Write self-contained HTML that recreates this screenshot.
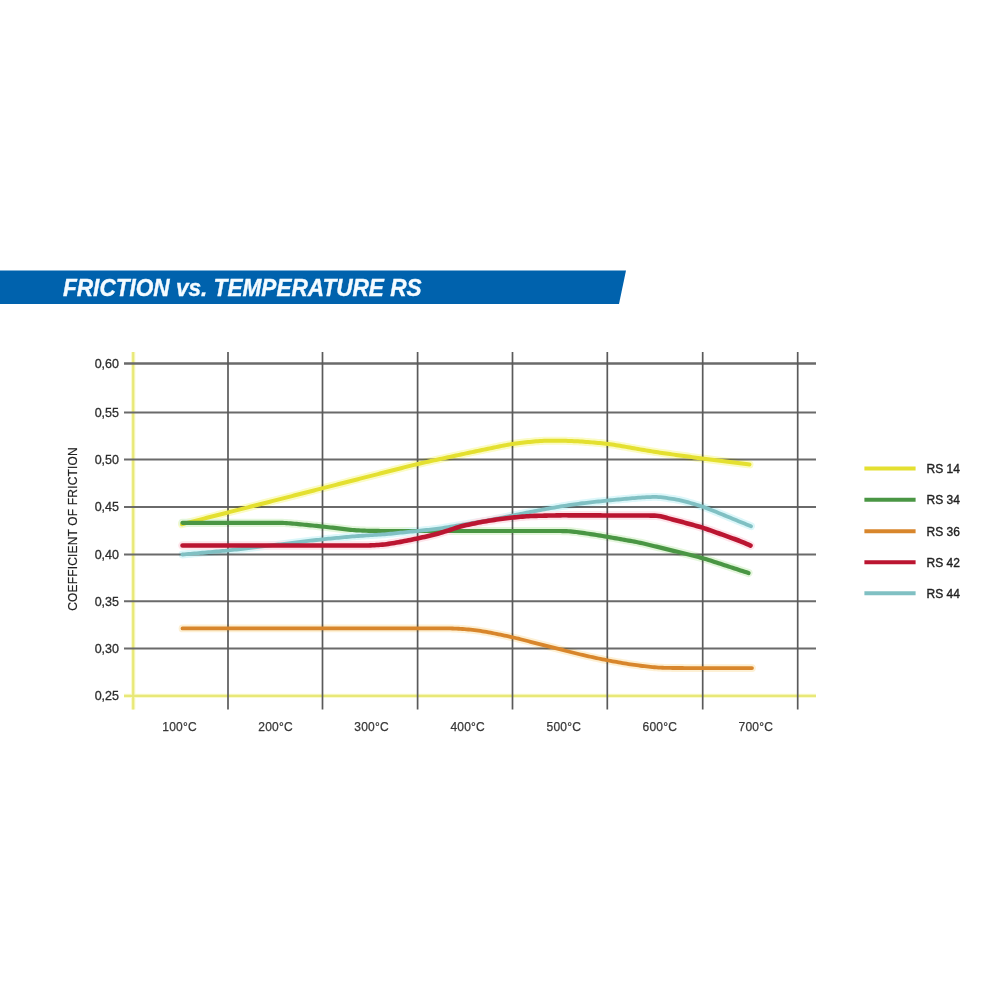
<!DOCTYPE html>
<html><head><meta charset="utf-8">
<style>
html,body{margin:0;padding:0;background:#fff;width:1000px;height:1000px;overflow:hidden}
svg{display:block;filter:blur(0.4px)}
text{font-family:"Liberation Sans",sans-serif}
</style></head>
<body>
<svg width="1000" height="1000" viewBox="0 0 1000 1000">
<rect width="1000" height="1000" fill="#fff"/>
<polygon points="0,270.5 626,270.5 619,304 0,304" fill="#0062ad"/>
<text transform="translate(63,295.6) scale(1,1.04)" x="0" y="0" font-size="22.6" font-weight="bold" font-style="italic" fill="#f4fbff" stroke="#f4fbff" stroke-width="0.35">FRICTION vs. TEMPERATURE RS</text>
<g stroke="#fafacc" stroke-width="4.4"><line x1="133.2" y1="352" x2="133.2" y2="709.5"/><line x1="124" y1="695.9" x2="816" y2="695.9"/></g>
<g stroke="#e8e878" stroke-width="2.2"><line x1="133.2" y1="352" x2="133.2" y2="709.5"/><line x1="124" y1="695.9" x2="816" y2="695.9"/></g>
<g stroke="#6a6a6a" stroke-width="2.0">
<line x1="124" y1="363.5" x2="816" y2="363.5" stroke-width="2.6"/>
<line x1="124" y1="412.5" x2="816" y2="412.5"/>
<line x1="124" y1="459.6" x2="816" y2="459.6"/>
<line x1="124" y1="507.1" x2="816" y2="507.1"/>
<line x1="124" y1="554.4" x2="816" y2="554.4"/>
<line x1="124" y1="601.2" x2="816" y2="601.2"/>
<line x1="124" y1="648.4" x2="816" y2="648.4"/>
</g>
<g stroke="#5a5a5a" stroke-width="1.7">
<line x1="228" y1="352" x2="228" y2="709.5"/>
<line x1="322.5" y1="352" x2="322.5" y2="709.5"/>
<line x1="417.6" y1="352" x2="417.6" y2="709.5"/>
<line x1="512.5" y1="352" x2="512.5" y2="709.5"/>
<line x1="607.3" y1="352" x2="607.3" y2="709.5"/>
<line x1="702.7" y1="352" x2="702.7" y2="709.5"/>
<line x1="797.7" y1="352" x2="797.7" y2="709.5"/>
</g>
<g font-size="12.5" fill="#2e2e2e" stroke="#2e2e2e" stroke-width="0.3" text-anchor="end">
<text x="119" y="367.8">0,60</text>
<text x="119" y="416.8">0,55</text>
<text x="119" y="463.9">0,50</text>
<text x="119" y="511.4">0,45</text>
<text x="119" y="558.7">0,40</text>
<text x="119" y="605.5">0,35</text>
<text x="119" y="652.7">0,30</text>
<text x="119" y="700.2">0,25</text>
</g>
<text transform="translate(77,529) rotate(-90)" font-size="12" letter-spacing="0.17" fill="#222" stroke="#222" stroke-width="0.2" text-anchor="middle">COEFFICIENT OF FRICTION</text>
<g font-size="12" fill="#383838" stroke="#383838" stroke-width="0.25" letter-spacing="0.2" text-anchor="middle">
<text x="179.6" y="731">100°C</text>
<text x="275.6" y="731">200°C</text>
<text x="371.6" y="731">300°C</text>
<text x="467.7" y="731">400°C</text>
<text x="563.8" y="731">500°C</text>
<text x="659.8" y="731">600°C</text>
<text x="755.8" y="731">700°C</text>
</g>
<g fill="none" stroke-linecap="round" stroke-linejoin="round" style="mix-blend-mode:multiply">
<path stroke="#fbfbc4" stroke-width="8.0" d="M182.0,524.20 L184.0,523.69 L186.0,523.18 L188.0,522.67 L190.0,522.15 L192.0,521.64 L194.0,521.13 L196.0,520.62 L198.0,520.11 L200.0,519.60 L202.0,519.09 L204.0,518.57 L206.0,518.06 L208.0,517.55 L210.0,517.04 L212.0,516.53 L214.0,516.02 L216.0,515.51 L218.0,514.99 L220.0,514.48 L222.0,513.97 L224.0,513.46 L226.0,512.95 L228.0,512.44 L230.0,511.92 L232.0,511.41 L234.0,510.90 L236.0,510.39 L238.0,509.88 L240.0,509.37 L242.0,508.86 L244.0,508.34 L246.0,507.83 L248.0,507.32 L250.0,506.81 L252.0,506.30 L254.0,505.79 L256.0,505.28 L258.0,504.76 L260.0,504.25 L262.0,503.74 L264.0,503.23 L266.0,502.72 L268.0,502.21 L270.0,501.70 L272.0,501.18 L274.0,500.67 L276.0,500.16 L278.0,499.65 L280.0,499.14 L282.0,498.63 L284.0,498.12 L286.0,497.60 L288.0,497.09 L290.0,496.58 L292.0,496.07 L294.0,495.56 L296.0,495.05 L298.0,494.53 L300.0,494.02 L302.0,493.51 L304.0,493.00 L306.0,492.49 L308.0,491.98 L310.0,491.47 L312.0,490.95 L314.0,490.44 L316.0,489.93 L318.0,489.42 L320.0,488.91 L322.0,488.40 L324.0,487.89 L326.0,487.37 L328.0,486.86 L330.0,486.35 L332.0,485.84 L334.0,485.33 L336.0,484.82 L338.0,484.31 L340.0,483.79 L342.0,483.28 L344.0,482.77 L346.0,482.26 L348.0,481.75 L350.0,481.24 L352.0,480.73 L354.0,480.21 L356.0,479.70 L358.0,479.19 L360.0,478.68 L362.0,478.17 L364.0,477.66 L366.0,477.14 L368.0,476.63 L370.0,476.12 L372.0,475.61 L374.0,475.10 L376.0,474.59 L378.0,474.08 L380.0,473.56 L382.0,473.05 L384.0,472.54 L386.0,472.03 L388.0,471.52 L390.0,471.01 L392.0,470.50 L394.0,469.98 L396.0,469.47 L398.0,468.96 L400.0,468.45 L402.0,467.94 L404.0,467.43 L406.0,466.93 L408.0,466.42 L410.0,465.92 L412.0,465.42 L414.0,464.93 L416.0,464.45 L418.0,463.98 L420.0,463.51 L422.0,463.05 L424.0,462.59 L426.0,462.14 L428.0,461.70 L430.0,461.25 L432.0,460.81 L434.0,460.37 L436.0,459.94 L438.0,459.50 L440.0,459.06 L442.0,458.63 L444.0,458.19 L446.0,457.75 L448.0,457.31 L450.0,456.88 L452.0,456.44 L454.0,456.01 L456.0,455.57 L458.0,455.14 L460.0,454.70 L462.0,454.27 L464.0,453.84 L466.0,453.41 L468.0,452.99 L470.0,452.56 L472.0,452.14 L474.0,451.71 L476.0,451.29 L478.0,450.87 L480.0,450.45 L482.0,450.03 L484.0,449.61 L486.0,449.19 L488.0,448.77 L490.0,448.35 L492.0,447.93 L494.0,447.51 L496.0,447.09 L498.0,446.68 L500.0,446.27 L502.0,445.86 L504.0,445.47 L506.0,445.09 L508.0,444.72 L510.0,444.37 L512.0,444.05 L514.0,443.74 L516.0,443.46 L518.0,443.20 L520.0,442.95 L522.0,442.72 L524.0,442.50 L526.0,442.29 L528.0,442.09 L530.0,441.89 L532.0,441.70 L534.0,441.52 L536.0,441.35 L538.0,441.19 L540.0,441.04 L542.0,440.92 L544.0,440.82 L546.0,440.74 L548.0,440.68 L550.0,440.65 L552.0,440.64 L554.0,440.64 L556.0,440.66 L558.0,440.68 L560.0,440.71 L562.0,440.75 L564.0,440.80 L566.0,440.85 L568.0,440.91 L570.0,440.98 L572.0,441.05 L574.0,441.14 L576.0,441.24 L578.0,441.35 L580.0,441.48 L582.0,441.61 L584.0,441.75 L586.0,441.90 L588.0,442.05 L590.0,442.21 L592.0,442.37 L594.0,442.54 L596.0,442.71 L598.0,442.89 L600.0,443.08 L602.0,443.28 L604.0,443.50 L606.0,443.73 L608.0,443.98 L610.0,444.25 L612.0,444.54 L614.0,444.85 L616.0,445.17 L618.0,445.50 L620.0,445.84 L622.0,446.19 L624.0,446.53 L626.0,446.88 L628.0,447.24 L630.0,447.59 L632.0,447.94 L634.0,448.29 L636.0,448.65 L638.0,449.00 L640.0,449.35 L642.0,449.70 L644.0,450.05 L646.0,450.39 L648.0,450.73 L650.0,451.07 L652.0,451.40 L654.0,451.72 L656.0,452.04 L658.0,452.34 L660.0,452.65 L662.0,452.94 L664.0,453.23 L666.0,453.51 L668.0,453.80 L670.0,454.08 L672.0,454.36 L674.0,454.63 L676.0,454.91 L678.0,455.19 L680.0,455.47 L682.0,455.74 L684.0,456.02 L686.0,456.30 L688.0,456.57 L690.0,456.85 L692.0,457.13 L694.0,457.40 L696.0,457.67 L698.0,457.94 L700.0,458.21 L702.0,458.47 L704.0,458.74 L706.0,458.99 L708.0,459.25 L710.0,459.50 L712.0,459.76 L714.0,460.01 L716.0,460.26 L718.0,460.50 L720.0,460.75 L722.0,461.00 L724.0,461.25 L726.0,461.49 L728.0,461.74 L730.0,461.99 L732.0,462.24 L734.0,462.48 L736.0,462.73 L738.0,462.98 L740.0,463.23 L742.0,463.47 L744.0,463.72 L746.0,463.97 L748.0,464.21 L749.5,464.40"/>
<path stroke="#e4f6dc" stroke-width="8.2" d="M182.5,522.80 L184.5,522.80 L186.5,522.80 L188.5,522.80 L190.5,522.80 L192.5,522.80 L194.5,522.80 L196.5,522.80 L198.5,522.80 L200.5,522.80 L202.5,522.80 L204.5,522.80 L206.5,522.80 L208.5,522.80 L210.5,522.80 L212.5,522.80 L214.5,522.80 L216.5,522.80 L218.5,522.80 L220.5,522.80 L222.5,522.80 L224.5,522.80 L226.5,522.80 L228.5,522.80 L230.5,522.80 L232.5,522.80 L234.5,522.80 L236.5,522.80 L238.5,522.80 L240.5,522.80 L242.5,522.80 L244.5,522.80 L246.5,522.80 L248.5,522.80 L250.5,522.80 L252.5,522.80 L254.5,522.80 L256.5,522.80 L258.5,522.80 L260.5,522.80 L262.5,522.80 L264.5,522.80 L266.5,522.80 L268.5,522.80 L270.5,522.80 L272.5,522.80 L274.5,522.81 L276.5,522.82 L278.5,522.84 L280.5,522.88 L282.5,522.93 L284.5,523.01 L286.5,523.12 L288.5,523.25 L290.5,523.40 L292.5,523.57 L294.5,523.75 L296.5,523.94 L298.5,524.13 L300.5,524.33 L302.5,524.53 L304.5,524.72 L306.5,524.92 L308.5,525.12 L310.5,525.32 L312.5,525.52 L314.5,525.72 L316.5,525.92 L318.5,526.12 L320.5,526.33 L322.5,526.55 L324.5,526.77 L326.5,527.00 L328.5,527.23 L330.5,527.47 L332.5,527.70 L334.5,527.94 L336.5,528.18 L338.5,528.42 L340.5,528.66 L342.5,528.90 L344.5,529.13 L346.5,529.36 L348.5,529.58 L350.5,529.79 L352.5,529.98 L354.5,530.15 L356.5,530.29 L358.5,530.41 L360.5,530.51 L362.5,530.60 L364.5,530.67 L366.5,530.73 L368.5,530.79 L370.5,530.84 L372.5,530.89 L374.5,530.92 L376.5,530.95 L378.5,530.97 L380.5,530.98 L382.5,530.99 L384.5,531.00 L386.5,531.00 L388.5,531.00 L390.5,531.00 L392.5,531.00 L394.5,531.00 L396.5,531.00 L398.5,531.00 L400.5,531.00 L402.5,531.00 L404.5,531.00 L406.5,531.00 L408.5,531.00 L410.5,531.00 L412.5,531.00 L414.5,531.00 L416.5,531.00 L418.5,531.00 L420.5,531.00 L422.5,531.00 L424.5,531.00 L426.5,531.00 L428.5,531.00 L430.5,531.00 L432.5,531.00 L434.5,531.00 L436.5,531.00 L438.5,531.00 L440.5,531.00 L442.5,531.00 L444.5,531.00 L446.5,531.00 L448.5,531.00 L450.5,531.00 L452.5,531.00 L454.5,531.00 L456.5,531.00 L458.5,531.00 L460.5,531.00 L462.5,531.00 L464.5,531.00 L466.5,531.00 L468.5,531.00 L470.5,531.00 L472.5,531.00 L474.5,531.00 L476.5,531.00 L478.5,531.00 L480.5,531.00 L482.5,531.00 L484.5,531.00 L486.5,531.00 L488.5,531.00 L490.5,531.00 L492.5,531.00 L494.5,531.00 L496.5,531.00 L498.5,531.00 L500.5,531.00 L502.5,531.00 L504.5,531.00 L506.5,531.00 L508.5,531.00 L510.5,531.00 L512.5,531.00 L514.5,531.00 L516.5,531.00 L518.5,531.00 L520.5,531.00 L522.5,531.00 L524.5,531.00 L526.5,531.00 L528.5,531.00 L530.5,531.00 L532.5,531.00 L534.5,531.00 L536.5,531.00 L538.5,531.00 L540.5,531.00 L542.5,531.00 L544.5,531.00 L546.5,531.00 L548.5,531.00 L550.5,531.00 L552.5,531.00 L554.5,531.00 L556.5,531.00 L558.5,531.01 L560.5,531.02 L562.5,531.04 L564.5,531.09 L566.5,531.15 L568.5,531.25 L570.5,531.39 L572.5,531.57 L574.5,531.79 L576.5,532.04 L578.5,532.30 L580.5,532.59 L582.5,532.88 L584.5,533.18 L586.5,533.48 L588.5,533.78 L590.5,534.08 L592.5,534.38 L594.5,534.69 L596.5,535.00 L598.5,535.32 L600.5,535.65 L602.5,535.98 L604.5,536.32 L606.5,536.67 L608.5,537.01 L610.5,537.37 L612.5,537.72 L614.5,538.07 L616.5,538.43 L618.5,538.78 L620.5,539.14 L622.5,539.49 L624.5,539.85 L626.5,540.20 L628.5,540.56 L630.5,540.92 L632.5,541.29 L634.5,541.66 L636.5,542.05 L638.5,542.45 L640.5,542.87 L642.5,543.31 L644.5,543.76 L646.5,544.23 L648.5,544.70 L650.5,545.19 L652.5,545.68 L654.5,546.17 L656.5,546.66 L658.5,547.15 L660.5,547.64 L662.5,548.14 L664.5,548.63 L666.5,549.12 L668.5,549.61 L670.5,550.10 L672.5,550.60 L674.5,551.09 L676.5,551.58 L678.5,552.07 L680.5,552.56 L682.5,553.06 L684.5,553.55 L686.5,554.04 L688.5,554.53 L690.5,555.03 L692.5,555.52 L694.5,556.03 L696.5,556.54 L698.5,557.06 L700.5,557.60 L702.5,558.16 L704.5,558.75 L706.5,559.35 L708.5,559.97 L710.5,560.60 L712.5,561.24 L714.5,561.89 L716.5,562.54 L718.5,563.20 L720.5,563.85 L722.5,564.50 L724.5,565.16 L726.5,565.81 L728.5,566.46 L730.5,567.12 L732.5,567.77 L734.5,568.42 L736.5,569.08 L738.5,569.73 L740.5,570.39 L742.5,571.04 L744.5,571.69 L746.5,572.35 L748.5,573.00"/>
<path stroke="#dcf7fa" stroke-width="7.8" d="M182.5,554.50 L184.5,554.32 L186.5,554.15 L188.5,553.97 L190.5,553.80 L192.5,553.62 L194.5,553.45 L196.5,553.27 L198.5,553.09 L200.5,552.92 L202.5,552.74 L204.5,552.57 L206.5,552.39 L208.5,552.21 L210.5,552.04 L212.5,551.86 L214.5,551.69 L216.5,551.51 L218.5,551.33 L220.5,551.16 L222.5,550.98 L224.5,550.80 L226.5,550.60 L228.5,550.40 L230.5,550.18 L232.5,549.96 L234.5,549.73 L236.5,549.49 L238.5,549.26 L240.5,549.02 L242.5,548.78 L244.5,548.54 L246.5,548.31 L248.5,548.07 L250.5,547.83 L252.5,547.60 L254.5,547.36 L256.5,547.12 L258.5,546.89 L260.5,546.65 L262.5,546.41 L264.5,546.17 L266.5,545.94 L268.5,545.70 L270.5,545.46 L272.5,545.23 L274.5,544.99 L276.5,544.75 L278.5,544.51 L280.5,544.28 L282.5,544.04 L284.5,543.80 L286.5,543.57 L288.5,543.33 L290.5,543.09 L292.5,542.86 L294.5,542.62 L296.5,542.38 L298.5,542.14 L300.5,541.91 L302.5,541.67 L304.5,541.43 L306.5,541.20 L308.5,540.96 L310.5,540.72 L312.5,540.49 L314.5,540.25 L316.5,540.01 L318.5,539.78 L320.5,539.56 L322.5,539.34 L324.5,539.13 L326.5,538.93 L328.5,538.73 L330.5,538.54 L332.5,538.35 L334.5,538.16 L336.5,537.96 L338.5,537.77 L340.5,537.58 L342.5,537.39 L344.5,537.20 L346.5,537.01 L348.5,536.82 L350.5,536.64 L352.5,536.46 L354.5,536.29 L356.5,536.14 L358.5,535.99 L360.5,535.86 L362.5,535.73 L364.5,535.60 L366.5,535.47 L368.5,535.35 L370.5,535.22 L372.5,535.09 L374.5,534.96 L376.5,534.84 L378.5,534.71 L380.5,534.58 L382.5,534.43 L384.5,534.28 L386.5,534.11 L388.5,533.93 L390.5,533.74 L392.5,533.54 L394.5,533.34 L396.5,533.13 L398.5,532.93 L400.5,532.73 L402.5,532.52 L404.5,532.32 L406.5,532.12 L408.5,531.91 L410.5,531.71 L412.5,531.51 L414.5,531.30 L416.5,531.09 L418.5,530.88 L420.5,530.66 L422.5,530.44 L424.5,530.22 L426.5,530.00 L428.5,529.78 L430.5,529.56 L432.5,529.33 L434.5,529.10 L436.5,528.86 L438.5,528.61 L440.5,528.34 L442.5,528.04 L444.5,527.72 L446.5,527.39 L448.5,527.05 L450.5,526.71 L452.5,526.38 L454.5,526.03 L456.5,525.70 L458.5,525.36 L460.5,525.01 L462.5,524.67 L464.5,524.33 L466.5,524.00 L468.5,523.65 L470.5,523.31 L472.5,522.97 L474.5,522.63 L476.5,522.29 L478.5,521.95 L480.5,521.61 L482.5,521.27 L484.5,520.93 L486.5,520.58 L488.5,520.23 L490.5,519.86 L492.5,519.48 L494.5,519.09 L496.5,518.70 L498.5,518.30 L500.5,517.90 L502.5,517.50 L504.5,517.10 L506.5,516.70 L508.5,516.30 L510.5,515.90 L512.5,515.50 L514.5,515.10 L516.5,514.70 L518.5,514.30 L520.5,513.90 L522.5,513.50 L524.5,513.10 L526.5,512.71 L528.5,512.32 L530.5,511.93 L532.5,511.55 L534.5,511.18 L536.5,510.81 L538.5,510.44 L540.5,510.08 L542.5,509.71 L544.5,509.34 L546.5,508.97 L548.5,508.61 L550.5,508.24 L552.5,507.88 L554.5,507.51 L556.5,507.16 L558.5,506.81 L560.5,506.47 L562.5,506.15 L564.5,505.83 L566.5,505.53 L568.5,505.23 L570.5,504.93 L572.5,504.63 L574.5,504.33 L576.5,504.04 L578.5,503.76 L580.5,503.50 L582.5,503.26 L584.5,503.02 L586.5,502.80 L588.5,502.58 L590.5,502.37 L592.5,502.15 L594.5,501.94 L596.5,501.72 L598.5,501.50 L600.5,501.29 L602.5,501.07 L604.5,500.86 L606.5,500.66 L608.5,500.45 L610.5,500.26 L612.5,500.07 L614.5,499.88 L616.5,499.69 L618.5,499.50 L620.5,499.32 L622.5,499.13 L624.5,498.94 L626.5,498.76 L628.5,498.57 L630.5,498.39 L632.5,498.20 L634.5,498.02 L636.5,497.85 L638.5,497.69 L640.5,497.54 L642.5,497.42 L644.5,497.31 L646.5,497.22 L648.5,497.12 L650.5,497.04 L652.5,496.97 L654.5,496.94 L656.5,496.95 L658.5,497.04 L660.5,497.20 L662.5,497.42 L664.5,497.69 L666.5,497.98 L668.5,498.28 L670.5,498.58 L672.5,498.88 L674.5,499.20 L676.5,499.53 L678.5,499.90 L680.5,500.33 L682.5,500.81 L684.5,501.33 L686.5,501.88 L688.5,502.45 L690.5,503.02 L692.5,503.60 L694.5,504.17 L696.5,504.76 L698.5,505.36 L700.5,505.98 L702.5,506.65 L704.5,507.36 L706.5,508.11 L708.5,508.89 L710.5,509.68 L712.5,510.48 L714.5,511.29 L716.5,512.10 L718.5,512.91 L720.5,513.72 L722.5,514.55 L724.5,515.37 L726.5,516.20 L728.5,517.03 L730.5,517.86 L732.5,518.69 L734.5,519.52 L736.5,520.34 L738.5,521.16 L740.5,521.98 L742.5,522.79 L744.5,523.60 L746.5,524.40 L748.5,525.20 L750.5,526.00 L751.0,526.20"/>
<path stroke="#fde4ea" stroke-width="8.6" d="M182.5,545.50 L184.5,545.50 L186.5,545.50 L188.5,545.50 L190.5,545.50 L192.5,545.50 L194.5,545.50 L196.5,545.50 L198.5,545.50 L200.5,545.50 L202.5,545.50 L204.5,545.50 L206.5,545.50 L208.5,545.50 L210.5,545.50 L212.5,545.50 L214.5,545.50 L216.5,545.50 L218.5,545.50 L220.5,545.50 L222.5,545.50 L224.5,545.50 L226.5,545.50 L228.5,545.50 L230.5,545.50 L232.5,545.50 L234.5,545.50 L236.5,545.50 L238.5,545.50 L240.5,545.50 L242.5,545.50 L244.5,545.50 L246.5,545.50 L248.5,545.50 L250.5,545.50 L252.5,545.50 L254.5,545.50 L256.5,545.50 L258.5,545.50 L260.5,545.50 L262.5,545.50 L264.5,545.50 L266.5,545.50 L268.5,545.50 L270.5,545.50 L272.5,545.50 L274.5,545.50 L276.5,545.50 L278.5,545.50 L280.5,545.50 L282.5,545.50 L284.5,545.50 L286.5,545.50 L288.5,545.50 L290.5,545.50 L292.5,545.50 L294.5,545.50 L296.5,545.50 L298.5,545.50 L300.5,545.50 L302.5,545.50 L304.5,545.50 L306.5,545.50 L308.5,545.50 L310.5,545.50 L312.5,545.50 L314.5,545.50 L316.5,545.50 L318.5,545.50 L320.5,545.50 L322.5,545.50 L324.5,545.50 L326.5,545.50 L328.5,545.50 L330.5,545.50 L332.5,545.50 L334.5,545.50 L336.5,545.50 L338.5,545.50 L340.5,545.50 L342.5,545.50 L344.5,545.50 L346.5,545.50 L348.5,545.50 L350.5,545.50 L352.5,545.50 L354.5,545.50 L356.5,545.50 L358.5,545.50 L360.5,545.50 L362.5,545.50 L364.5,545.50 L366.5,545.49 L368.5,545.46 L370.5,545.40 L372.5,545.31 L374.5,545.19 L376.5,545.07 L378.5,544.93 L380.5,544.79 L382.5,544.63 L384.5,544.44 L386.5,544.19 L388.5,543.90 L390.5,543.58 L392.5,543.25 L394.5,542.92 L396.5,542.58 L398.5,542.23 L400.5,541.87 L402.5,541.49 L404.5,541.10 L406.5,540.70 L408.5,540.30 L410.5,539.90 L412.5,539.50 L414.5,539.09 L416.5,538.68 L418.5,538.25 L420.5,537.81 L422.5,537.36 L424.5,536.90 L426.5,536.44 L428.5,535.98 L430.5,535.52 L432.5,535.05 L434.5,534.55 L436.5,534.01 L438.5,533.44 L440.5,532.85 L442.5,532.25 L444.5,531.65 L446.5,531.04 L448.5,530.42 L450.5,529.78 L452.5,529.11 L454.5,528.43 L456.5,527.75 L458.5,527.10 L460.5,526.52 L462.5,526.01 L464.5,525.54 L466.5,525.10 L468.5,524.67 L470.5,524.24 L472.5,523.81 L474.5,523.38 L476.5,522.96 L478.5,522.55 L480.5,522.17 L482.5,521.82 L484.5,521.48 L486.5,521.16 L488.5,520.84 L490.5,520.52 L492.5,520.20 L494.5,519.88 L496.5,519.57 L498.5,519.26 L500.5,518.98 L502.5,518.72 L504.5,518.48 L506.5,518.24 L508.5,518.01 L510.5,517.78 L512.5,517.57 L514.5,517.37 L516.5,517.18 L518.5,517.00 L520.5,516.83 L522.5,516.65 L524.5,516.48 L526.5,516.32 L528.5,516.17 L530.5,516.05 L532.5,515.96 L534.5,515.90 L536.5,515.85 L538.5,515.80 L540.5,515.75 L542.5,515.71 L544.5,515.66 L546.5,515.62 L548.5,515.57 L550.5,515.52 L552.5,515.48 L554.5,515.43 L556.5,515.39 L558.5,515.35 L560.5,515.33 L562.5,515.32 L564.5,515.32 L566.5,515.32 L568.5,515.33 L570.5,515.33 L572.5,515.34 L574.5,515.34 L576.5,515.35 L578.5,515.36 L580.5,515.36 L582.5,515.37 L584.5,515.38 L586.5,515.38 L588.5,515.39 L590.5,515.39 L592.5,515.40 L594.5,515.41 L596.5,515.41 L598.5,515.42 L600.5,515.42 L602.5,515.43 L604.5,515.44 L606.5,515.44 L608.5,515.45 L610.5,515.45 L612.5,515.46 L614.5,515.47 L616.5,515.47 L618.5,515.48 L620.5,515.49 L622.5,515.49 L624.5,515.50 L626.5,515.50 L628.5,515.51 L630.5,515.52 L632.5,515.52 L634.5,515.53 L636.5,515.53 L638.5,515.54 L640.5,515.55 L642.5,515.55 L644.5,515.56 L646.5,515.56 L648.5,515.57 L650.5,515.58 L652.5,515.59 L654.5,515.63 L656.5,515.75 L658.5,515.98 L660.5,516.35 L662.5,516.81 L664.5,517.32 L666.5,517.84 L668.5,518.37 L670.5,518.90 L672.5,519.42 L674.5,519.95 L676.5,520.48 L678.5,521.01 L680.5,521.55 L682.5,522.09 L684.5,522.63 L686.5,523.18 L688.5,523.73 L690.5,524.27 L692.5,524.82 L694.5,525.37 L696.5,525.92 L698.5,526.47 L700.5,527.05 L702.5,527.66 L704.5,528.32 L706.5,529.00 L708.5,529.71 L710.5,530.42 L712.5,531.13 L714.5,531.84 L716.5,532.55 L718.5,533.27 L720.5,533.98 L722.5,534.70 L724.5,535.42 L726.5,536.14 L728.5,536.86 L730.5,537.58 L732.5,538.30 L734.5,539.02 L736.5,539.75 L738.5,540.51 L740.5,541.29 L742.5,542.12 L744.5,542.98 L746.5,543.85 L748.5,544.72 L750.5,545.60"/>
<path stroke="#fdf0d4" stroke-width="7.8" d="M182.5,628.40 L184.5,628.40 L186.5,628.40 L188.5,628.40 L190.5,628.40 L192.5,628.40 L194.5,628.40 L196.5,628.40 L198.5,628.40 L200.5,628.40 L202.5,628.40 L204.5,628.40 L206.5,628.40 L208.5,628.40 L210.5,628.40 L212.5,628.40 L214.5,628.40 L216.5,628.40 L218.5,628.40 L220.5,628.40 L222.5,628.40 L224.5,628.40 L226.5,628.40 L228.5,628.40 L230.5,628.40 L232.5,628.40 L234.5,628.40 L236.5,628.40 L238.5,628.40 L240.5,628.40 L242.5,628.40 L244.5,628.40 L246.5,628.40 L248.5,628.40 L250.5,628.40 L252.5,628.40 L254.5,628.40 L256.5,628.40 L258.5,628.40 L260.5,628.40 L262.5,628.40 L264.5,628.40 L266.5,628.40 L268.5,628.40 L270.5,628.40 L272.5,628.40 L274.5,628.40 L276.5,628.40 L278.5,628.40 L280.5,628.40 L282.5,628.40 L284.5,628.40 L286.5,628.40 L288.5,628.40 L290.5,628.40 L292.5,628.40 L294.5,628.40 L296.5,628.40 L298.5,628.40 L300.5,628.40 L302.5,628.40 L304.5,628.40 L306.5,628.40 L308.5,628.40 L310.5,628.40 L312.5,628.40 L314.5,628.40 L316.5,628.40 L318.5,628.40 L320.5,628.40 L322.5,628.40 L324.5,628.40 L326.5,628.40 L328.5,628.40 L330.5,628.40 L332.5,628.40 L334.5,628.40 L336.5,628.40 L338.5,628.40 L340.5,628.40 L342.5,628.40 L344.5,628.40 L346.5,628.40 L348.5,628.40 L350.5,628.40 L352.5,628.40 L354.5,628.40 L356.5,628.40 L358.5,628.40 L360.5,628.40 L362.5,628.40 L364.5,628.40 L366.5,628.40 L368.5,628.40 L370.5,628.40 L372.5,628.40 L374.5,628.40 L376.5,628.40 L378.5,628.40 L380.5,628.40 L382.5,628.40 L384.5,628.40 L386.5,628.40 L388.5,628.40 L390.5,628.40 L392.5,628.40 L394.5,628.40 L396.5,628.40 L398.5,628.40 L400.5,628.40 L402.5,628.40 L404.5,628.40 L406.5,628.40 L408.5,628.40 L410.5,628.40 L412.5,628.40 L414.5,628.40 L416.5,628.40 L418.5,628.40 L420.5,628.40 L422.5,628.40 L424.5,628.40 L426.5,628.40 L428.5,628.40 L430.5,628.40 L432.5,628.40 L434.5,628.40 L436.5,628.40 L438.5,628.40 L440.5,628.40 L442.5,628.41 L444.5,628.41 L446.5,628.43 L448.5,628.44 L450.5,628.47 L452.5,628.51 L454.5,628.57 L456.5,628.65 L458.5,628.74 L460.5,628.86 L462.5,628.99 L464.5,629.15 L466.5,629.32 L468.5,629.51 L470.5,629.71 L472.5,629.93 L474.5,630.17 L476.5,630.42 L478.5,630.70 L480.5,630.99 L482.5,631.30 L484.5,631.64 L486.5,631.99 L488.5,632.35 L490.5,632.73 L492.5,633.11 L494.5,633.50 L496.5,633.90 L498.5,634.30 L500.5,634.70 L502.5,635.11 L504.5,635.52 L506.5,635.95 L508.5,636.38 L510.5,636.82 L512.5,637.28 L514.5,637.75 L516.5,638.23 L518.5,638.72 L520.5,639.22 L522.5,639.73 L524.5,640.24 L526.5,640.76 L528.5,641.28 L530.5,641.80 L532.5,642.31 L534.5,642.83 L536.5,643.34 L538.5,643.85 L540.5,644.36 L542.5,644.87 L544.5,645.37 L546.5,645.87 L548.5,646.38 L550.5,646.88 L552.5,647.39 L554.5,647.90 L556.5,648.41 L558.5,648.92 L560.5,649.44 L562.5,649.95 L564.5,650.47 L566.5,650.99 L568.5,651.50 L570.5,652.01 L572.5,652.52 L574.5,653.02 L576.5,653.52 L578.5,654.00 L580.5,654.48 L582.5,654.95 L584.5,655.42 L586.5,655.87 L588.5,656.32 L590.5,656.76 L592.5,657.20 L594.5,657.63 L596.5,658.06 L598.5,658.49 L600.5,658.91 L602.5,659.32 L604.5,659.73 L606.5,660.12 L608.5,660.51 L610.5,660.89 L612.5,661.26 L614.5,661.63 L616.5,661.98 L618.5,662.34 L620.5,662.68 L622.5,663.03 L624.5,663.37 L626.5,663.70 L628.5,664.02 L630.5,664.34 L632.5,664.64 L634.5,664.94 L636.5,665.22 L638.5,665.49 L640.5,665.75 L642.5,665.99 L644.5,666.23 L646.5,666.46 L648.5,666.68 L650.5,666.88 L652.5,667.08 L654.5,667.26 L656.5,667.42 L658.5,667.56 L660.5,667.68 L662.5,667.77 L664.5,667.85 L666.5,667.91 L668.5,667.95 L670.5,667.97 L672.5,667.99 L674.5,668.01 L676.5,668.01 L678.5,668.02 L680.5,668.02 L682.5,668.02 L684.5,668.03 L686.5,668.03 L688.5,668.03 L690.5,668.03 L692.5,668.04 L694.5,668.04 L696.5,668.04 L698.5,668.04 L700.5,668.04 L702.5,668.05 L704.5,668.05 L706.5,668.05 L708.5,668.05 L710.5,668.05 L712.5,668.06 L714.5,668.06 L716.5,668.06 L718.5,668.06 L720.5,668.07 L722.5,668.07 L724.5,668.07 L726.5,668.07 L728.5,668.07 L730.5,668.08 L732.5,668.08 L734.5,668.08 L736.5,668.08 L738.5,668.09 L740.5,668.09 L742.5,668.09 L744.5,668.09 L746.5,668.09 L748.5,668.10 L750.5,668.10 L752.0,668.10"/>
</g>
<g fill="none" stroke-linecap="round" stroke-linejoin="round">
<path stroke="#e4e030" stroke-width="4.0" d="M182.0,524.20 L184.0,523.69 L186.0,523.18 L188.0,522.67 L190.0,522.15 L192.0,521.64 L194.0,521.13 L196.0,520.62 L198.0,520.11 L200.0,519.60 L202.0,519.09 L204.0,518.57 L206.0,518.06 L208.0,517.55 L210.0,517.04 L212.0,516.53 L214.0,516.02 L216.0,515.51 L218.0,514.99 L220.0,514.48 L222.0,513.97 L224.0,513.46 L226.0,512.95 L228.0,512.44 L230.0,511.92 L232.0,511.41 L234.0,510.90 L236.0,510.39 L238.0,509.88 L240.0,509.37 L242.0,508.86 L244.0,508.34 L246.0,507.83 L248.0,507.32 L250.0,506.81 L252.0,506.30 L254.0,505.79 L256.0,505.28 L258.0,504.76 L260.0,504.25 L262.0,503.74 L264.0,503.23 L266.0,502.72 L268.0,502.21 L270.0,501.70 L272.0,501.18 L274.0,500.67 L276.0,500.16 L278.0,499.65 L280.0,499.14 L282.0,498.63 L284.0,498.12 L286.0,497.60 L288.0,497.09 L290.0,496.58 L292.0,496.07 L294.0,495.56 L296.0,495.05 L298.0,494.53 L300.0,494.02 L302.0,493.51 L304.0,493.00 L306.0,492.49 L308.0,491.98 L310.0,491.47 L312.0,490.95 L314.0,490.44 L316.0,489.93 L318.0,489.42 L320.0,488.91 L322.0,488.40 L324.0,487.89 L326.0,487.37 L328.0,486.86 L330.0,486.35 L332.0,485.84 L334.0,485.33 L336.0,484.82 L338.0,484.31 L340.0,483.79 L342.0,483.28 L344.0,482.77 L346.0,482.26 L348.0,481.75 L350.0,481.24 L352.0,480.73 L354.0,480.21 L356.0,479.70 L358.0,479.19 L360.0,478.68 L362.0,478.17 L364.0,477.66 L366.0,477.14 L368.0,476.63 L370.0,476.12 L372.0,475.61 L374.0,475.10 L376.0,474.59 L378.0,474.08 L380.0,473.56 L382.0,473.05 L384.0,472.54 L386.0,472.03 L388.0,471.52 L390.0,471.01 L392.0,470.50 L394.0,469.98 L396.0,469.47 L398.0,468.96 L400.0,468.45 L402.0,467.94 L404.0,467.43 L406.0,466.93 L408.0,466.42 L410.0,465.92 L412.0,465.42 L414.0,464.93 L416.0,464.45 L418.0,463.98 L420.0,463.51 L422.0,463.05 L424.0,462.59 L426.0,462.14 L428.0,461.70 L430.0,461.25 L432.0,460.81 L434.0,460.37 L436.0,459.94 L438.0,459.50 L440.0,459.06 L442.0,458.63 L444.0,458.19 L446.0,457.75 L448.0,457.31 L450.0,456.88 L452.0,456.44 L454.0,456.01 L456.0,455.57 L458.0,455.14 L460.0,454.70 L462.0,454.27 L464.0,453.84 L466.0,453.41 L468.0,452.99 L470.0,452.56 L472.0,452.14 L474.0,451.71 L476.0,451.29 L478.0,450.87 L480.0,450.45 L482.0,450.03 L484.0,449.61 L486.0,449.19 L488.0,448.77 L490.0,448.35 L492.0,447.93 L494.0,447.51 L496.0,447.09 L498.0,446.68 L500.0,446.27 L502.0,445.86 L504.0,445.47 L506.0,445.09 L508.0,444.72 L510.0,444.37 L512.0,444.05 L514.0,443.74 L516.0,443.46 L518.0,443.20 L520.0,442.95 L522.0,442.72 L524.0,442.50 L526.0,442.29 L528.0,442.09 L530.0,441.89 L532.0,441.70 L534.0,441.52 L536.0,441.35 L538.0,441.19 L540.0,441.04 L542.0,440.92 L544.0,440.82 L546.0,440.74 L548.0,440.68 L550.0,440.65 L552.0,440.64 L554.0,440.64 L556.0,440.66 L558.0,440.68 L560.0,440.71 L562.0,440.75 L564.0,440.80 L566.0,440.85 L568.0,440.91 L570.0,440.98 L572.0,441.05 L574.0,441.14 L576.0,441.24 L578.0,441.35 L580.0,441.48 L582.0,441.61 L584.0,441.75 L586.0,441.90 L588.0,442.05 L590.0,442.21 L592.0,442.37 L594.0,442.54 L596.0,442.71 L598.0,442.89 L600.0,443.08 L602.0,443.28 L604.0,443.50 L606.0,443.73 L608.0,443.98 L610.0,444.25 L612.0,444.54 L614.0,444.85 L616.0,445.17 L618.0,445.50 L620.0,445.84 L622.0,446.19 L624.0,446.53 L626.0,446.88 L628.0,447.24 L630.0,447.59 L632.0,447.94 L634.0,448.29 L636.0,448.65 L638.0,449.00 L640.0,449.35 L642.0,449.70 L644.0,450.05 L646.0,450.39 L648.0,450.73 L650.0,451.07 L652.0,451.40 L654.0,451.72 L656.0,452.04 L658.0,452.34 L660.0,452.65 L662.0,452.94 L664.0,453.23 L666.0,453.51 L668.0,453.80 L670.0,454.08 L672.0,454.36 L674.0,454.63 L676.0,454.91 L678.0,455.19 L680.0,455.47 L682.0,455.74 L684.0,456.02 L686.0,456.30 L688.0,456.57 L690.0,456.85 L692.0,457.13 L694.0,457.40 L696.0,457.67 L698.0,457.94 L700.0,458.21 L702.0,458.47 L704.0,458.74 L706.0,458.99 L708.0,459.25 L710.0,459.50 L712.0,459.76 L714.0,460.01 L716.0,460.26 L718.0,460.50 L720.0,460.75 L722.0,461.00 L724.0,461.25 L726.0,461.49 L728.0,461.74 L730.0,461.99 L732.0,462.24 L734.0,462.48 L736.0,462.73 L738.0,462.98 L740.0,463.23 L742.0,463.47 L744.0,463.72 L746.0,463.97 L748.0,464.21 L749.5,464.40"/>
<path stroke="#4a9644" stroke-width="4.2" d="M182.5,522.80 L184.5,522.80 L186.5,522.80 L188.5,522.80 L190.5,522.80 L192.5,522.80 L194.5,522.80 L196.5,522.80 L198.5,522.80 L200.5,522.80 L202.5,522.80 L204.5,522.80 L206.5,522.80 L208.5,522.80 L210.5,522.80 L212.5,522.80 L214.5,522.80 L216.5,522.80 L218.5,522.80 L220.5,522.80 L222.5,522.80 L224.5,522.80 L226.5,522.80 L228.5,522.80 L230.5,522.80 L232.5,522.80 L234.5,522.80 L236.5,522.80 L238.5,522.80 L240.5,522.80 L242.5,522.80 L244.5,522.80 L246.5,522.80 L248.5,522.80 L250.5,522.80 L252.5,522.80 L254.5,522.80 L256.5,522.80 L258.5,522.80 L260.5,522.80 L262.5,522.80 L264.5,522.80 L266.5,522.80 L268.5,522.80 L270.5,522.80 L272.5,522.80 L274.5,522.81 L276.5,522.82 L278.5,522.84 L280.5,522.88 L282.5,522.93 L284.5,523.01 L286.5,523.12 L288.5,523.25 L290.5,523.40 L292.5,523.57 L294.5,523.75 L296.5,523.94 L298.5,524.13 L300.5,524.33 L302.5,524.53 L304.5,524.72 L306.5,524.92 L308.5,525.12 L310.5,525.32 L312.5,525.52 L314.5,525.72 L316.5,525.92 L318.5,526.12 L320.5,526.33 L322.5,526.55 L324.5,526.77 L326.5,527.00 L328.5,527.23 L330.5,527.47 L332.5,527.70 L334.5,527.94 L336.5,528.18 L338.5,528.42 L340.5,528.66 L342.5,528.90 L344.5,529.13 L346.5,529.36 L348.5,529.58 L350.5,529.79 L352.5,529.98 L354.5,530.15 L356.5,530.29 L358.5,530.41 L360.5,530.51 L362.5,530.60 L364.5,530.67 L366.5,530.73 L368.5,530.79 L370.5,530.84 L372.5,530.89 L374.5,530.92 L376.5,530.95 L378.5,530.97 L380.5,530.98 L382.5,530.99 L384.5,531.00 L386.5,531.00 L388.5,531.00 L390.5,531.00 L392.5,531.00 L394.5,531.00 L396.5,531.00 L398.5,531.00 L400.5,531.00 L402.5,531.00 L404.5,531.00 L406.5,531.00 L408.5,531.00 L410.5,531.00 L412.5,531.00 L414.5,531.00 L416.5,531.00 L418.5,531.00 L420.5,531.00 L422.5,531.00 L424.5,531.00 L426.5,531.00 L428.5,531.00 L430.5,531.00 L432.5,531.00 L434.5,531.00 L436.5,531.00 L438.5,531.00 L440.5,531.00 L442.5,531.00 L444.5,531.00 L446.5,531.00 L448.5,531.00 L450.5,531.00 L452.5,531.00 L454.5,531.00 L456.5,531.00 L458.5,531.00 L460.5,531.00 L462.5,531.00 L464.5,531.00 L466.5,531.00 L468.5,531.00 L470.5,531.00 L472.5,531.00 L474.5,531.00 L476.5,531.00 L478.5,531.00 L480.5,531.00 L482.5,531.00 L484.5,531.00 L486.5,531.00 L488.5,531.00 L490.5,531.00 L492.5,531.00 L494.5,531.00 L496.5,531.00 L498.5,531.00 L500.5,531.00 L502.5,531.00 L504.5,531.00 L506.5,531.00 L508.5,531.00 L510.5,531.00 L512.5,531.00 L514.5,531.00 L516.5,531.00 L518.5,531.00 L520.5,531.00 L522.5,531.00 L524.5,531.00 L526.5,531.00 L528.5,531.00 L530.5,531.00 L532.5,531.00 L534.5,531.00 L536.5,531.00 L538.5,531.00 L540.5,531.00 L542.5,531.00 L544.5,531.00 L546.5,531.00 L548.5,531.00 L550.5,531.00 L552.5,531.00 L554.5,531.00 L556.5,531.00 L558.5,531.01 L560.5,531.02 L562.5,531.04 L564.5,531.09 L566.5,531.15 L568.5,531.25 L570.5,531.39 L572.5,531.57 L574.5,531.79 L576.5,532.04 L578.5,532.30 L580.5,532.59 L582.5,532.88 L584.5,533.18 L586.5,533.48 L588.5,533.78 L590.5,534.08 L592.5,534.38 L594.5,534.69 L596.5,535.00 L598.5,535.32 L600.5,535.65 L602.5,535.98 L604.5,536.32 L606.5,536.67 L608.5,537.01 L610.5,537.37 L612.5,537.72 L614.5,538.07 L616.5,538.43 L618.5,538.78 L620.5,539.14 L622.5,539.49 L624.5,539.85 L626.5,540.20 L628.5,540.56 L630.5,540.92 L632.5,541.29 L634.5,541.66 L636.5,542.05 L638.5,542.45 L640.5,542.87 L642.5,543.31 L644.5,543.76 L646.5,544.23 L648.5,544.70 L650.5,545.19 L652.5,545.68 L654.5,546.17 L656.5,546.66 L658.5,547.15 L660.5,547.64 L662.5,548.14 L664.5,548.63 L666.5,549.12 L668.5,549.61 L670.5,550.10 L672.5,550.60 L674.5,551.09 L676.5,551.58 L678.5,552.07 L680.5,552.56 L682.5,553.06 L684.5,553.55 L686.5,554.04 L688.5,554.53 L690.5,555.03 L692.5,555.52 L694.5,556.03 L696.5,556.54 L698.5,557.06 L700.5,557.60 L702.5,558.16 L704.5,558.75 L706.5,559.35 L708.5,559.97 L710.5,560.60 L712.5,561.24 L714.5,561.89 L716.5,562.54 L718.5,563.20 L720.5,563.85 L722.5,564.50 L724.5,565.16 L726.5,565.81 L728.5,566.46 L730.5,567.12 L732.5,567.77 L734.5,568.42 L736.5,569.08 L738.5,569.73 L740.5,570.39 L742.5,571.04 L744.5,571.69 L746.5,572.35 L748.5,573.00"/>
<path stroke="#80c0c3" stroke-width="3.8" d="M182.5,554.50 L184.5,554.32 L186.5,554.15 L188.5,553.97 L190.5,553.80 L192.5,553.62 L194.5,553.45 L196.5,553.27 L198.5,553.09 L200.5,552.92 L202.5,552.74 L204.5,552.57 L206.5,552.39 L208.5,552.21 L210.5,552.04 L212.5,551.86 L214.5,551.69 L216.5,551.51 L218.5,551.33 L220.5,551.16 L222.5,550.98 L224.5,550.80 L226.5,550.60 L228.5,550.40 L230.5,550.18 L232.5,549.96 L234.5,549.73 L236.5,549.49 L238.5,549.26 L240.5,549.02 L242.5,548.78 L244.5,548.54 L246.5,548.31 L248.5,548.07 L250.5,547.83 L252.5,547.60 L254.5,547.36 L256.5,547.12 L258.5,546.89 L260.5,546.65 L262.5,546.41 L264.5,546.17 L266.5,545.94 L268.5,545.70 L270.5,545.46 L272.5,545.23 L274.5,544.99 L276.5,544.75 L278.5,544.51 L280.5,544.28 L282.5,544.04 L284.5,543.80 L286.5,543.57 L288.5,543.33 L290.5,543.09 L292.5,542.86 L294.5,542.62 L296.5,542.38 L298.5,542.14 L300.5,541.91 L302.5,541.67 L304.5,541.43 L306.5,541.20 L308.5,540.96 L310.5,540.72 L312.5,540.49 L314.5,540.25 L316.5,540.01 L318.5,539.78 L320.5,539.56 L322.5,539.34 L324.5,539.13 L326.5,538.93 L328.5,538.73 L330.5,538.54 L332.5,538.35 L334.5,538.16 L336.5,537.96 L338.5,537.77 L340.5,537.58 L342.5,537.39 L344.5,537.20 L346.5,537.01 L348.5,536.82 L350.5,536.64 L352.5,536.46 L354.5,536.29 L356.5,536.14 L358.5,535.99 L360.5,535.86 L362.5,535.73 L364.5,535.60 L366.5,535.47 L368.5,535.35 L370.5,535.22 L372.5,535.09 L374.5,534.96 L376.5,534.84 L378.5,534.71 L380.5,534.58 L382.5,534.43 L384.5,534.28 L386.5,534.11 L388.5,533.93 L390.5,533.74 L392.5,533.54 L394.5,533.34 L396.5,533.13 L398.5,532.93 L400.5,532.73 L402.5,532.52 L404.5,532.32 L406.5,532.12 L408.5,531.91 L410.5,531.71 L412.5,531.51 L414.5,531.30 L416.5,531.09 L418.5,530.88 L420.5,530.66 L422.5,530.44 L424.5,530.22 L426.5,530.00 L428.5,529.78 L430.5,529.56 L432.5,529.33 L434.5,529.10 L436.5,528.86 L438.5,528.61 L440.5,528.34 L442.5,528.04 L444.5,527.72 L446.5,527.39 L448.5,527.05 L450.5,526.71 L452.5,526.38 L454.5,526.03 L456.5,525.70 L458.5,525.36 L460.5,525.01 L462.5,524.67 L464.5,524.33 L466.5,524.00 L468.5,523.65 L470.5,523.31 L472.5,522.97 L474.5,522.63 L476.5,522.29 L478.5,521.95 L480.5,521.61 L482.5,521.27 L484.5,520.93 L486.5,520.58 L488.5,520.23 L490.5,519.86 L492.5,519.48 L494.5,519.09 L496.5,518.70 L498.5,518.30 L500.5,517.90 L502.5,517.50 L504.5,517.10 L506.5,516.70 L508.5,516.30 L510.5,515.90 L512.5,515.50 L514.5,515.10 L516.5,514.70 L518.5,514.30 L520.5,513.90 L522.5,513.50 L524.5,513.10 L526.5,512.71 L528.5,512.32 L530.5,511.93 L532.5,511.55 L534.5,511.18 L536.5,510.81 L538.5,510.44 L540.5,510.08 L542.5,509.71 L544.5,509.34 L546.5,508.97 L548.5,508.61 L550.5,508.24 L552.5,507.88 L554.5,507.51 L556.5,507.16 L558.5,506.81 L560.5,506.47 L562.5,506.15 L564.5,505.83 L566.5,505.53 L568.5,505.23 L570.5,504.93 L572.5,504.63 L574.5,504.33 L576.5,504.04 L578.5,503.76 L580.5,503.50 L582.5,503.26 L584.5,503.02 L586.5,502.80 L588.5,502.58 L590.5,502.37 L592.5,502.15 L594.5,501.94 L596.5,501.72 L598.5,501.50 L600.5,501.29 L602.5,501.07 L604.5,500.86 L606.5,500.66 L608.5,500.45 L610.5,500.26 L612.5,500.07 L614.5,499.88 L616.5,499.69 L618.5,499.50 L620.5,499.32 L622.5,499.13 L624.5,498.94 L626.5,498.76 L628.5,498.57 L630.5,498.39 L632.5,498.20 L634.5,498.02 L636.5,497.85 L638.5,497.69 L640.5,497.54 L642.5,497.42 L644.5,497.31 L646.5,497.22 L648.5,497.12 L650.5,497.04 L652.5,496.97 L654.5,496.94 L656.5,496.95 L658.5,497.04 L660.5,497.20 L662.5,497.42 L664.5,497.69 L666.5,497.98 L668.5,498.28 L670.5,498.58 L672.5,498.88 L674.5,499.20 L676.5,499.53 L678.5,499.90 L680.5,500.33 L682.5,500.81 L684.5,501.33 L686.5,501.88 L688.5,502.45 L690.5,503.02 L692.5,503.60 L694.5,504.17 L696.5,504.76 L698.5,505.36 L700.5,505.98 L702.5,506.65 L704.5,507.36 L706.5,508.11 L708.5,508.89 L710.5,509.68 L712.5,510.48 L714.5,511.29 L716.5,512.10 L718.5,512.91 L720.5,513.72 L722.5,514.55 L724.5,515.37 L726.5,516.20 L728.5,517.03 L730.5,517.86 L732.5,518.69 L734.5,519.52 L736.5,520.34 L738.5,521.16 L740.5,521.98 L742.5,522.79 L744.5,523.60 L746.5,524.40 L748.5,525.20 L750.5,526.00 L751.0,526.20"/>
<path stroke="#bb1531" stroke-width="4.6" d="M182.5,545.50 L184.5,545.50 L186.5,545.50 L188.5,545.50 L190.5,545.50 L192.5,545.50 L194.5,545.50 L196.5,545.50 L198.5,545.50 L200.5,545.50 L202.5,545.50 L204.5,545.50 L206.5,545.50 L208.5,545.50 L210.5,545.50 L212.5,545.50 L214.5,545.50 L216.5,545.50 L218.5,545.50 L220.5,545.50 L222.5,545.50 L224.5,545.50 L226.5,545.50 L228.5,545.50 L230.5,545.50 L232.5,545.50 L234.5,545.50 L236.5,545.50 L238.5,545.50 L240.5,545.50 L242.5,545.50 L244.5,545.50 L246.5,545.50 L248.5,545.50 L250.5,545.50 L252.5,545.50 L254.5,545.50 L256.5,545.50 L258.5,545.50 L260.5,545.50 L262.5,545.50 L264.5,545.50 L266.5,545.50 L268.5,545.50 L270.5,545.50 L272.5,545.50 L274.5,545.50 L276.5,545.50 L278.5,545.50 L280.5,545.50 L282.5,545.50 L284.5,545.50 L286.5,545.50 L288.5,545.50 L290.5,545.50 L292.5,545.50 L294.5,545.50 L296.5,545.50 L298.5,545.50 L300.5,545.50 L302.5,545.50 L304.5,545.50 L306.5,545.50 L308.5,545.50 L310.5,545.50 L312.5,545.50 L314.5,545.50 L316.5,545.50 L318.5,545.50 L320.5,545.50 L322.5,545.50 L324.5,545.50 L326.5,545.50 L328.5,545.50 L330.5,545.50 L332.5,545.50 L334.5,545.50 L336.5,545.50 L338.5,545.50 L340.5,545.50 L342.5,545.50 L344.5,545.50 L346.5,545.50 L348.5,545.50 L350.5,545.50 L352.5,545.50 L354.5,545.50 L356.5,545.50 L358.5,545.50 L360.5,545.50 L362.5,545.50 L364.5,545.50 L366.5,545.49 L368.5,545.46 L370.5,545.40 L372.5,545.31 L374.5,545.19 L376.5,545.07 L378.5,544.93 L380.5,544.79 L382.5,544.63 L384.5,544.44 L386.5,544.19 L388.5,543.90 L390.5,543.58 L392.5,543.25 L394.5,542.92 L396.5,542.58 L398.5,542.23 L400.5,541.87 L402.5,541.49 L404.5,541.10 L406.5,540.70 L408.5,540.30 L410.5,539.90 L412.5,539.50 L414.5,539.09 L416.5,538.68 L418.5,538.25 L420.5,537.81 L422.5,537.36 L424.5,536.90 L426.5,536.44 L428.5,535.98 L430.5,535.52 L432.5,535.05 L434.5,534.55 L436.5,534.01 L438.5,533.44 L440.5,532.85 L442.5,532.25 L444.5,531.65 L446.5,531.04 L448.5,530.42 L450.5,529.78 L452.5,529.11 L454.5,528.43 L456.5,527.75 L458.5,527.10 L460.5,526.52 L462.5,526.01 L464.5,525.54 L466.5,525.10 L468.5,524.67 L470.5,524.24 L472.5,523.81 L474.5,523.38 L476.5,522.96 L478.5,522.55 L480.5,522.17 L482.5,521.82 L484.5,521.48 L486.5,521.16 L488.5,520.84 L490.5,520.52 L492.5,520.20 L494.5,519.88 L496.5,519.57 L498.5,519.26 L500.5,518.98 L502.5,518.72 L504.5,518.48 L506.5,518.24 L508.5,518.01 L510.5,517.78 L512.5,517.57 L514.5,517.37 L516.5,517.18 L518.5,517.00 L520.5,516.83 L522.5,516.65 L524.5,516.48 L526.5,516.32 L528.5,516.17 L530.5,516.05 L532.5,515.96 L534.5,515.90 L536.5,515.85 L538.5,515.80 L540.5,515.75 L542.5,515.71 L544.5,515.66 L546.5,515.62 L548.5,515.57 L550.5,515.52 L552.5,515.48 L554.5,515.43 L556.5,515.39 L558.5,515.35 L560.5,515.33 L562.5,515.32 L564.5,515.32 L566.5,515.32 L568.5,515.33 L570.5,515.33 L572.5,515.34 L574.5,515.34 L576.5,515.35 L578.5,515.36 L580.5,515.36 L582.5,515.37 L584.5,515.38 L586.5,515.38 L588.5,515.39 L590.5,515.39 L592.5,515.40 L594.5,515.41 L596.5,515.41 L598.5,515.42 L600.5,515.42 L602.5,515.43 L604.5,515.44 L606.5,515.44 L608.5,515.45 L610.5,515.45 L612.5,515.46 L614.5,515.47 L616.5,515.47 L618.5,515.48 L620.5,515.49 L622.5,515.49 L624.5,515.50 L626.5,515.50 L628.5,515.51 L630.5,515.52 L632.5,515.52 L634.5,515.53 L636.5,515.53 L638.5,515.54 L640.5,515.55 L642.5,515.55 L644.5,515.56 L646.5,515.56 L648.5,515.57 L650.5,515.58 L652.5,515.59 L654.5,515.63 L656.5,515.75 L658.5,515.98 L660.5,516.35 L662.5,516.81 L664.5,517.32 L666.5,517.84 L668.5,518.37 L670.5,518.90 L672.5,519.42 L674.5,519.95 L676.5,520.48 L678.5,521.01 L680.5,521.55 L682.5,522.09 L684.5,522.63 L686.5,523.18 L688.5,523.73 L690.5,524.27 L692.5,524.82 L694.5,525.37 L696.5,525.92 L698.5,526.47 L700.5,527.05 L702.5,527.66 L704.5,528.32 L706.5,529.00 L708.5,529.71 L710.5,530.42 L712.5,531.13 L714.5,531.84 L716.5,532.55 L718.5,533.27 L720.5,533.98 L722.5,534.70 L724.5,535.42 L726.5,536.14 L728.5,536.86 L730.5,537.58 L732.5,538.30 L734.5,539.02 L736.5,539.75 L738.5,540.51 L740.5,541.29 L742.5,542.12 L744.5,542.98 L746.5,543.85 L748.5,544.72 L750.5,545.60"/>
<path stroke="#d8862c" stroke-width="3.8" d="M182.5,628.40 L184.5,628.40 L186.5,628.40 L188.5,628.40 L190.5,628.40 L192.5,628.40 L194.5,628.40 L196.5,628.40 L198.5,628.40 L200.5,628.40 L202.5,628.40 L204.5,628.40 L206.5,628.40 L208.5,628.40 L210.5,628.40 L212.5,628.40 L214.5,628.40 L216.5,628.40 L218.5,628.40 L220.5,628.40 L222.5,628.40 L224.5,628.40 L226.5,628.40 L228.5,628.40 L230.5,628.40 L232.5,628.40 L234.5,628.40 L236.5,628.40 L238.5,628.40 L240.5,628.40 L242.5,628.40 L244.5,628.40 L246.5,628.40 L248.5,628.40 L250.5,628.40 L252.5,628.40 L254.5,628.40 L256.5,628.40 L258.5,628.40 L260.5,628.40 L262.5,628.40 L264.5,628.40 L266.5,628.40 L268.5,628.40 L270.5,628.40 L272.5,628.40 L274.5,628.40 L276.5,628.40 L278.5,628.40 L280.5,628.40 L282.5,628.40 L284.5,628.40 L286.5,628.40 L288.5,628.40 L290.5,628.40 L292.5,628.40 L294.5,628.40 L296.5,628.40 L298.5,628.40 L300.5,628.40 L302.5,628.40 L304.5,628.40 L306.5,628.40 L308.5,628.40 L310.5,628.40 L312.5,628.40 L314.5,628.40 L316.5,628.40 L318.5,628.40 L320.5,628.40 L322.5,628.40 L324.5,628.40 L326.5,628.40 L328.5,628.40 L330.5,628.40 L332.5,628.40 L334.5,628.40 L336.5,628.40 L338.5,628.40 L340.5,628.40 L342.5,628.40 L344.5,628.40 L346.5,628.40 L348.5,628.40 L350.5,628.40 L352.5,628.40 L354.5,628.40 L356.5,628.40 L358.5,628.40 L360.5,628.40 L362.5,628.40 L364.5,628.40 L366.5,628.40 L368.5,628.40 L370.5,628.40 L372.5,628.40 L374.5,628.40 L376.5,628.40 L378.5,628.40 L380.5,628.40 L382.5,628.40 L384.5,628.40 L386.5,628.40 L388.5,628.40 L390.5,628.40 L392.5,628.40 L394.5,628.40 L396.5,628.40 L398.5,628.40 L400.5,628.40 L402.5,628.40 L404.5,628.40 L406.5,628.40 L408.5,628.40 L410.5,628.40 L412.5,628.40 L414.5,628.40 L416.5,628.40 L418.5,628.40 L420.5,628.40 L422.5,628.40 L424.5,628.40 L426.5,628.40 L428.5,628.40 L430.5,628.40 L432.5,628.40 L434.5,628.40 L436.5,628.40 L438.5,628.40 L440.5,628.40 L442.5,628.41 L444.5,628.41 L446.5,628.43 L448.5,628.44 L450.5,628.47 L452.5,628.51 L454.5,628.57 L456.5,628.65 L458.5,628.74 L460.5,628.86 L462.5,628.99 L464.5,629.15 L466.5,629.32 L468.5,629.51 L470.5,629.71 L472.5,629.93 L474.5,630.17 L476.5,630.42 L478.5,630.70 L480.5,630.99 L482.5,631.30 L484.5,631.64 L486.5,631.99 L488.5,632.35 L490.5,632.73 L492.5,633.11 L494.5,633.50 L496.5,633.90 L498.5,634.30 L500.5,634.70 L502.5,635.11 L504.5,635.52 L506.5,635.95 L508.5,636.38 L510.5,636.82 L512.5,637.28 L514.5,637.75 L516.5,638.23 L518.5,638.72 L520.5,639.22 L522.5,639.73 L524.5,640.24 L526.5,640.76 L528.5,641.28 L530.5,641.80 L532.5,642.31 L534.5,642.83 L536.5,643.34 L538.5,643.85 L540.5,644.36 L542.5,644.87 L544.5,645.37 L546.5,645.87 L548.5,646.38 L550.5,646.88 L552.5,647.39 L554.5,647.90 L556.5,648.41 L558.5,648.92 L560.5,649.44 L562.5,649.95 L564.5,650.47 L566.5,650.99 L568.5,651.50 L570.5,652.01 L572.5,652.52 L574.5,653.02 L576.5,653.52 L578.5,654.00 L580.5,654.48 L582.5,654.95 L584.5,655.42 L586.5,655.87 L588.5,656.32 L590.5,656.76 L592.5,657.20 L594.5,657.63 L596.5,658.06 L598.5,658.49 L600.5,658.91 L602.5,659.32 L604.5,659.73 L606.5,660.12 L608.5,660.51 L610.5,660.89 L612.5,661.26 L614.5,661.63 L616.5,661.98 L618.5,662.34 L620.5,662.68 L622.5,663.03 L624.5,663.37 L626.5,663.70 L628.5,664.02 L630.5,664.34 L632.5,664.64 L634.5,664.94 L636.5,665.22 L638.5,665.49 L640.5,665.75 L642.5,665.99 L644.5,666.23 L646.5,666.46 L648.5,666.68 L650.5,666.88 L652.5,667.08 L654.5,667.26 L656.5,667.42 L658.5,667.56 L660.5,667.68 L662.5,667.77 L664.5,667.85 L666.5,667.91 L668.5,667.95 L670.5,667.97 L672.5,667.99 L674.5,668.01 L676.5,668.01 L678.5,668.02 L680.5,668.02 L682.5,668.02 L684.5,668.03 L686.5,668.03 L688.5,668.03 L690.5,668.03 L692.5,668.04 L694.5,668.04 L696.5,668.04 L698.5,668.04 L700.5,668.04 L702.5,668.05 L704.5,668.05 L706.5,668.05 L708.5,668.05 L710.5,668.05 L712.5,668.06 L714.5,668.06 L716.5,668.06 L718.5,668.06 L720.5,668.07 L722.5,668.07 L724.5,668.07 L726.5,668.07 L728.5,668.07 L730.5,668.08 L732.5,668.08 L734.5,668.08 L736.5,668.08 L738.5,668.09 L740.5,668.09 L742.5,668.09 L744.5,668.09 L746.5,668.09 L748.5,668.10 L750.5,668.10 L752.0,668.10"/>
</g>
<g stroke-width="4" stroke-linecap="butt">
<line x1="864.4" y1="468.4" x2="915.6" y2="468.4" stroke="#e4e030"/>
<line x1="864.4" y1="499.8" x2="915.6" y2="499.8" stroke="#4a9644"/>
<line x1="864.4" y1="531.2" x2="915.6" y2="531.2" stroke="#d8862c"/>
<line x1="864.4" y1="562.3" x2="915.6" y2="562.3" stroke="#bb1531"/>
<line x1="864.4" y1="593.3" x2="915.6" y2="593.3" stroke="#80c0c3"/>
</g>
<g font-size="12" fill="#222" stroke="#222" stroke-width="0.35">
<text x="926.5" y="473.0">RS 14</text>
<text x="926.5" y="504.4">RS 34</text>
<text x="926.5" y="535.8">RS 36</text>
<text x="926.5" y="566.9">RS 42</text>
<text x="926.5" y="597.9">RS 44</text>
</g>
</svg>
</body></html>
